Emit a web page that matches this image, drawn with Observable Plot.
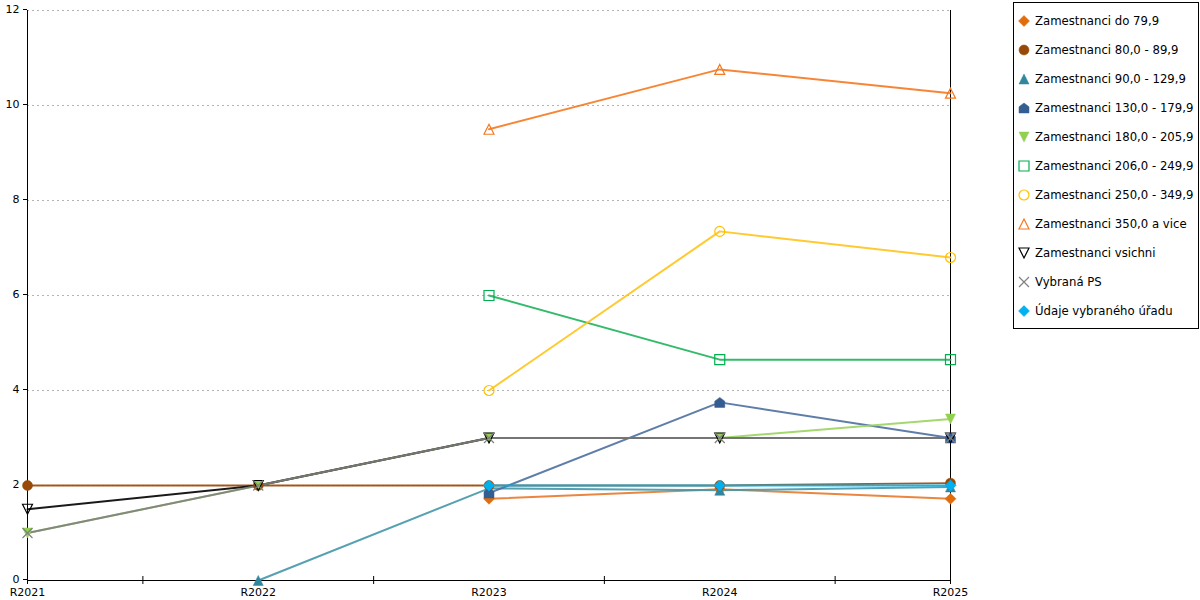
<!DOCTYPE html>
<html>
<head>
<meta charset="utf-8">
<script src="https://cdn.jsdelivr.net/npm/d3@7"></script>
<script src="https://cdn.jsdelivr.net/npm/@observablehq/plot@0.6"></script>
<style>
  html, body { margin: 0; padding: 0; background: #fff; }
  #chart { position: absolute; left: 0; top: 0; }
  #legend { position: absolute; left: 1013px; top: 2px; width: 186px; height: 327px;
    border: 1px solid #000; box-sizing: border-box; font-family: "DejaVu Sans", sans-serif; font-size: 11.7px; color: #000; }
  .item { position: absolute; left: 0; height: 16px; display: flex; align-items: center; white-space: nowrap; }
  .item svg { margin-left: 3px; margin-right: 4px; }
</style>
</head>
<body>
<div id="chart"></div>
<div id="legend"></div>
<script>
const years = ["R2021", "R2022", "R2023", "R2024", "R2025"];
const seriesNames = [
  "Zamestnanci do 79,9",
  "Zamestnanci 80,0 - 89,9",
  "Zamestnanci 90,0 - 129,9",
  "Zamestnanci 130,0 - 179,9",
  "Zamestnanci 180,0 - 205,9",
  "Zamestnanci 206,0 - 249,9",
  "Zamestnanci 250,0 - 349,9",
  "Zamestnanci 350,0 a vice",
  "Zamestnanci vsichni",
  "Vybraná PS",
  "Údaje vybraného úřadu"
];
const valDo79   = [null, null, 1.72, 1.92, 1.72];
const val80     = [2, 2, 2, 2, 2.05];
const val90     = [null, 0, 1.94, 1.9, 1.97];
const val130    = [null, null, 1.84, 3.75, 3.0];
const val180    = [1, 2, 3, 3, 3.4];
const val206    = [null, null, 6, 4.65, 4.65];
const val250    = [null, null, 4, 7.35, 6.8];
const val350    = [null, null, 9.5, 10.76, 10.26];
const valAll    = [1.5, 2, 3, 3, 3];
const valPS     = [1, 2, 3, 3, 3];
const valUrad   = [null, null, 2, 2, 2];
const seriesValues = [valDo79, val80, val90, val130, val180, val206, val250, val350, valAll, valPS, valUrad];
const yTicks = [0, 2, 4, 6, 8, 10, 12];

const colors = ["#e36c0a", "#984807", "#31859c", "#345d91", "#92d050", "#00b050", "#ffc000", "#f57920", "#000000", "#808080", "#00b0f0"];
const lineColors = ["#e8792a", "#984807", "#4596a8", "#4d6fa0", "#9ad35e", "#1db35a", "#ffc31a", "#f57920", "#000000", "#808080", "#00b0f0"];

// custom symbols
function sym(fn) { return { draw(ctx, size) { const r = Math.sqrt(size / Math.PI); fn(ctx, r); } }; }
function poly(ctx, pts) { ctx.moveTo(pts[0][0], pts[0][1]); for (let i = 1; i < pts.length; i++) ctx.lineTo(pts[i][0], pts[i][1]); ctx.closePath(); }
const symDiamond = sym((c, r) => poly(c, [[0, -1.1 * r], [1.1 * r, 0], [0, 1.1 * r], [-1.1 * r, 0]]));
const symCircle = sym((c, r) => { c.moveTo(r, 0); c.arc(0, 0, r, 0, 2 * Math.PI); });
const symTriUp = sym((c, r) => poly(c, [[0, -r], [r, r], [-r, r]]));
const symHouse = sym((c, r) => poly(c, [[0, -r], [r, -0.25 * r], [r, r], [-r, r], [-r, -0.25 * r]]));
const symTriDown = sym((c, r) => poly(c, [[-r, -r], [r, -r], [0, r]]));
const symSquare = sym((c, r) => poly(c, [[-r, -r], [r, -r], [r, r], [-r, r]]));
const symX = sym((c, r) => { c.moveTo(-r, -r); c.lineTo(r, r); c.moveTo(r, -r); c.lineTo(-r, r); });

const symbols = [symDiamond, symCircle, symTriUp, symHouse, symTriDown, symSquare, symCircle, symTriUp, symTriDown, symX, symDiamond];
const filled = [true, true, true, true, true, false, false, false, false, false, true];

const rows = [];
seriesValues.forEach((vals, si) => vals.forEach((v, xi) => rows.push({ s: si, x: xi, y: v })));

const mids = years.slice(1).map((d, i) => i + 0.5);

const lineMarks = seriesValues.map((vals, si) =>
  Plot.line(rows.filter(r => r.s === si && r.y != null), { x: "x", y: "y", stroke: lineColors[si], strokeWidth: 2, strokeOpacity: 0.9 })
);
const dotMarks = seriesValues.map((vals, si) =>
  Plot.dot(rows.filter(r => r.s === si && r.y != null), {
    x: "x", y: "y", r: 5, symbol: symbols[si],
    fill: filled[si] ? colors[si] : "none",
    stroke: colors[si], strokeWidth: filled[si] ? 0.5 : 1.2
  })
);

const chart = Plot.plot({
  width: 1010, height: 600,
  marginLeft: 27, marginRight: 60, marginTop: 10, marginBottom: 20,
  x: { type: "linear", domain: [0, years.length - 1] },
  y: { domain: [0, 12] },
  style: { fontFamily: "DejaVu Sans, sans-serif", fontSize: "11px", color: "#000", background: "transparent" },
  marks: [
    Plot.gridY(yTicks.filter(t => t > 0), { stroke: "#b4b4b4", strokeOpacity: 1, strokeDasharray: "2,3" }),
    Plot.ruleX([0, years.length - 1], { stroke: "#000", insetBottom: -4 }),
    Plot.ruleY([0], { stroke: "#000" }),
    Plot.axisY({ ticks: yTicks, tickSize: 4, tickPadding: 4, label: null, dy: -1 }),
    Plot.axisX({ ticks: years.map((d, i) => i), tickFormat: i => years[i], tickSize: 0, tickPadding: 8, label: null }),
    Plot.axisX({ ticks: mids, tickFormat: () => "", tickSize: 8, dy: -4, label: null }),
    ...lineMarks,
    ...dotMarks
  ]
});
document.getElementById("chart").appendChild(chart);

// legend
const legend = d3.select("#legend");
seriesNames.forEach((name, si) => {
  const item = legend.append("div").attr("class", "item").style("top", (10 + si * 29) + "px");
  const svg = item.append("svg").attr("width", 14).attr("height", 14);
  const p = d3.path();
  symbols[si].draw(p, Math.PI * 25);
  svg.append("path").attr("transform", "translate(7,7)").attr("d", p.toString())
    .attr("fill", filled[si] ? colors[si] : "none")
    .attr("stroke", colors[si]).attr("stroke-width", filled[si] ? 0.5 : 1.2);
  item.append("span").text(name);
});
</script>
</body>
</html>
